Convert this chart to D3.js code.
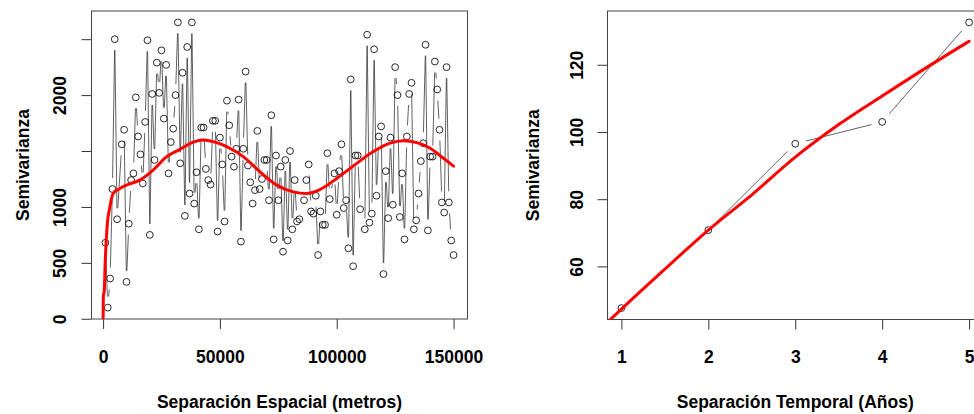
<!DOCTYPE html>
<html>
<head>
<meta charset="utf-8">
<script src="https://cdn.jsdelivr.net/npm/d3@7"></script>
<style>
  html, body { margin: 0; padding: 0; background: #fff; }
  svg text { font-family: "Liberation Sans", Arial, sans-serif; font-weight: bold; fill: #000; }
</style>
</head>
<body>
<svg id="chart" width="974" height="414"></svg>
<script>
// ---- Spatial empirical semivariogram (lag in metres, semivariance) ----
const spatialLag = [
  1000, 2000, 3000, 4000, 5000, 6000, 8000, 9000, 10000, 11000,
  12000, 13000, 14000, 15000, 16000, 17000, 18000, 19000, 20000, 21000,
  22000, 23000, 24000, 25000, 26000, 27000, 28000, 29000, 30000, 31000,
  32000, 33000, 34000, 35000, 36000, 37000, 38000, 39000, 40000, 41000,
  42000, 43000, 44000, 45000, 46000, 47000, 48000, 49000, 50000, 51000,
  52000, 53000, 54000, 55000, 56000, 57000, 58000, 59000, 60000, 61000,
  62000, 63000, 64000, 65000, 66000, 67000, 68000, 69000, 70000, 71000,
  72000, 73000, 74000, 75000, 76000, 77000, 78000, 79000, 80000, 81000,
  82000, 83000, 84000, 86000, 87000, 88000, 89000, 90000, 91000, 92000,
  93000, 94000, 95000, 96000, 97000, 99000, 100000, 101000, 102000, 103000,
  104000, 105000, 106000, 107000, 108000, 109000, 110000, 112000, 113000, 114000,
  115000, 116000, 117000, 118000, 119000, 120000, 121000, 122000, 123000, 124000,
  125000, 126000, 127000, 128000, 129000, 130000, 131000, 132000, 133000, 134000,
  135000, 136000, 137000, 138000, 139000, 140000, 141000, 142000, 143000, 144000,
  145000, 146000, 147000, 148000, 149000, 150000
];
const spatialGamma = [
  680, 100, 360, 1160, 2500, 890, 1560, 1690, 330, 850,
  1240, 1300, 1980, 1630, 1470, 1210, 1760, 2490, 750, 2010,
  1420, 2290, 2020, 2400, 1790, 2270, 1300, 1580, 1700, 2000,
  2650, 1390, 2200, 920, 2430, 1120, 2650, 1030, 1310, 800,
  1710, 1710, 1340, 1240, 1200, 1770, 1770, 780, 1620, 1380,
  870, 1950, 1730, 1450, 1360, 1520, 1960, 690, 1520, 2210,
  1370, 1220, 1030, 1150, 1680, 1160, 1250, 1420, 1420, 1060,
  1820, 710, 1460, 1060, 1360, 600, 1420, 700, 1500, 800,
  1240, 870, 890, 1060, 1240, 1380, 960, 940, 1100, 570,
  960, 840, 840, 1480, 1070, 1300, 930, 1320, 1560, 990,
  1060, 630, 2140, 470, 1460, 1460, 980, 800, 2540, 860,
  940, 2410, 1100, 1630, 1720, 400, 1320, 900, 1620, 1020,
  2250, 2000, 910, 1300, 710, 1630, 2010, 2110, 800, 880,
  1120, 1410, 1570, 2450, 790, 1450, 1450, 2300, 2050, 1690,
  1040, 950, 2250, 1040, 700, 570
];
// Smoothed spatial trend
const spatialFitLag = [
  0, 100, 500, 900, 1700, 2900, 4300, 6400, 10000, 15700,
  21400, 27200, 32900, 38600, 42800, 48600, 52900, 60000, 67100, 74300,
  81400, 87100, 92800, 100000, 107000, 115700, 122800, 128500, 134300, 140000,
  145700, 150000
];
const spatialFitGamma = [
  0, 200, 250, 500, 820, 1000, 1120, 1155, 1195, 1240,
  1330, 1450, 1515, 1580, 1598, 1575, 1540, 1450, 1315, 1195,
  1135, 1120, 1155, 1255, 1365, 1495, 1570, 1592, 1575, 1525,
  1435, 1365
];
const spatialXTicks = [0, 50000, 100000, 150000];
const spatialYTicks = [0, 500, 1000, 1500, 2000, 2500];
const spatialYLabels = ["0", "500", "1000", "", "2000", ""];

// ---- Temporal empirical semivariogram (lag in years) ----
const temporalLag = [1, 2, 3, 4, 5];
const temporalGamma = [47.6, 70.8, 96.5, 103.0, 132.6];
// Smoothed temporal trend
const temporalFitLag = [0.84, 1, 1.5, 2, 2.5, 3, 3.5, 4, 4.5, 5];
const temporalFitGamma = [43.4, 47.3, 59.2, 70.8, 81.3, 92.5, 102.2, 110.7, 119.0, 127.0];
const temporalXTicks = [1, 2, 3, 4, 5];
const temporalYTicks = [60, 80, 100, 120];

const svg = d3.select("#chart");

// Axis range padded by 4% on each side of the data extent
function padded(values) {
  const [lo, hi] = d3.extent(values);
  const r = hi - lo;
  return [lo - 0.04 * r, hi + 0.04 * r];
}

const GAP = 11; // distance kept clear around each point on the joining lines

function drawPanel(cfg) {
  const x = d3.scaleLinear().domain(padded(cfg.lag)).range([cfg.left, cfg.right]);
  const y = d3.scaleLinear().domain(padded(cfg.gamma)).range([cfg.bottom, cfg.top]);
  const g = svg.append("g");

  const clipId = "clip-" + cfg.id;
  svg.append("clipPath").attr("id", clipId)
    .append("rect")
    .attr("x", cfg.left).attr("y", cfg.top)
    .attr("width", cfg.right - cfg.left).attr("height", cfg.bottom - cfg.top);

  // x axis
  const xAxis = g.append("g")
    .attr("transform", `translate(0,${cfg.bottom})`)
    .call(d3.axisBottom(x).tickValues(cfg.xTicks).tickSize(10).tickFormat(d3.format("d")));
  xAxis.select(".domain").remove();
  xAxis.selectAll("line").attr("stroke", "#333").attr("stroke-width", 1);
  xAxis.selectAll("text")
    .attr("y", 37.5).attr("dy", "0.35em")
    .style("font-size", "17.5px")
    .attr("fill", "#000");

  // y axis
  const yAxis = g.append("g")
    .attr("transform", `translate(${cfg.left},0)`)
    .call(d3.axisLeft(y).tickValues(cfg.yTicks).tickSize(10)
      .tickFormat((d, i) => cfg.yLabels ? cfg.yLabels[i] : String(d)));
  yAxis.select(".domain").remove();
  yAxis.selectAll("line").attr("stroke", "#333").attr("stroke-width", 1);
  yAxis.selectAll("text")
    .attr("x", 0).attr("y", 0).attr("dy", "0.35em")
    .attr("text-anchor", "middle")
    .attr("transform", `translate(${-cfg.yLabelOffset},0) rotate(-90)`)
    .style("font-size", "17.5px")
    .attr("fill", "#000");

  // plot frame
  g.append("rect")
    .attr("x", cfg.left).attr("y", cfg.top)
    .attr("width", cfg.right - cfg.left).attr("height", cfg.bottom - cfg.top)
    .attr("fill", "none").attr("stroke", "#444").attr("stroke-width", 1);

  // joining lines, broken around each point
  const pts = cfg.lag.map((v, i) => [x(v), y(cfg.gamma[i])]);
  const segs = [];
  for (let i = 0; i < pts.length - 1; i++) {
    const [x1, y1] = pts[i], [x2, y2] = pts[i + 1];
    const dx = x2 - x1, dy = y2 - y1, len = Math.hypot(dx, dy);
    if (len <= 2 * GAP) continue;
    const ux = dx / len, uy = dy / len;
    segs.push([x1 + ux * GAP, y1 + uy * GAP, x2 - ux * GAP, y2 - uy * GAP]);
  }
  g.append("g").attr("clip-path", `url(#${clipId})`)
    .selectAll("line").data(segs).join("line")
    .attr("x1", d => d[0]).attr("y1", d => d[1])
    .attr("x2", d => d[2]).attr("y2", d => d[3])
    .attr("stroke", "#3a3a3a").attr("stroke-width", 0.8);

  // points
  g.append("g").selectAll("circle").data(pts).join("circle")
    .attr("cx", d => d[0]).attr("cy", d => d[1]).attr("r", 3.4)
    .attr("fill", "none").attr("stroke", "#111").attr("stroke-width", 0.9);

  // smoothed trend
  const fit = cfg.fitLag.map((v, i) => [v, cfg.fitGamma[i]]);
  g.append("path")
    .attr("clip-path", `url(#${clipId})`)
    .datum(fit)
    .attr("d", d3.line().x(d => x(d[0])).y(d => y(d[1])).curve(d3.curveMonotoneX))
    .attr("fill", "none").attr("stroke", "#ff0000").attr("stroke-width", 3)
    .attr("stroke-linejoin", "round").attr("stroke-linecap", "round");

  // axis titles
  const cx = (cfg.left + cfg.right) / 2;
  svg.append("text")
    .attr("x", cx).attr("y", 402).attr("dy", "0.35em")
    .attr("text-anchor", "middle").style("font-size", "17.5px")
    .text(cfg.xTitle);
  svg.append("text")
    .attr("transform", `translate(${cfg.yTitleX},${(cfg.top + cfg.bottom) / 2}) rotate(-90)`)
    .attr("dy", "0.35em")
    .attr("text-anchor", "middle").style("font-size", "17.5px")
    .text("Semivarianza");
}

drawPanel({
  id: "spatial",
  left: 91.5, right: 467.5, top: 11, bottom: 319,
  lag: spatialLag, gamma: spatialGamma,
  fitLag: spatialFitLag, fitGamma: spatialFitGamma,
  xTicks: spatialXTicks, yTicks: spatialYTicks, yLabels: spatialYLabels,
  yLabelOffset: 31.5, yTitleX: 23,
  xTitle: "Separación Espacial (metros)"
});

drawPanel({
  id: "temporal",
  left: 607.5, right: 983, top: 11, bottom: 319.5,
  lag: temporalLag, gamma: temporalGamma,
  fitLag: temporalFitLag, fitGamma: temporalFitGamma,
  xTicks: temporalXTicks, yTicks: temporalYTicks, yLabels: null,
  yLabelOffset: 31, yTitleX: 533,
  xTitle: "Separación Temporal (Años)"
});
</script>
</body>
</html>
